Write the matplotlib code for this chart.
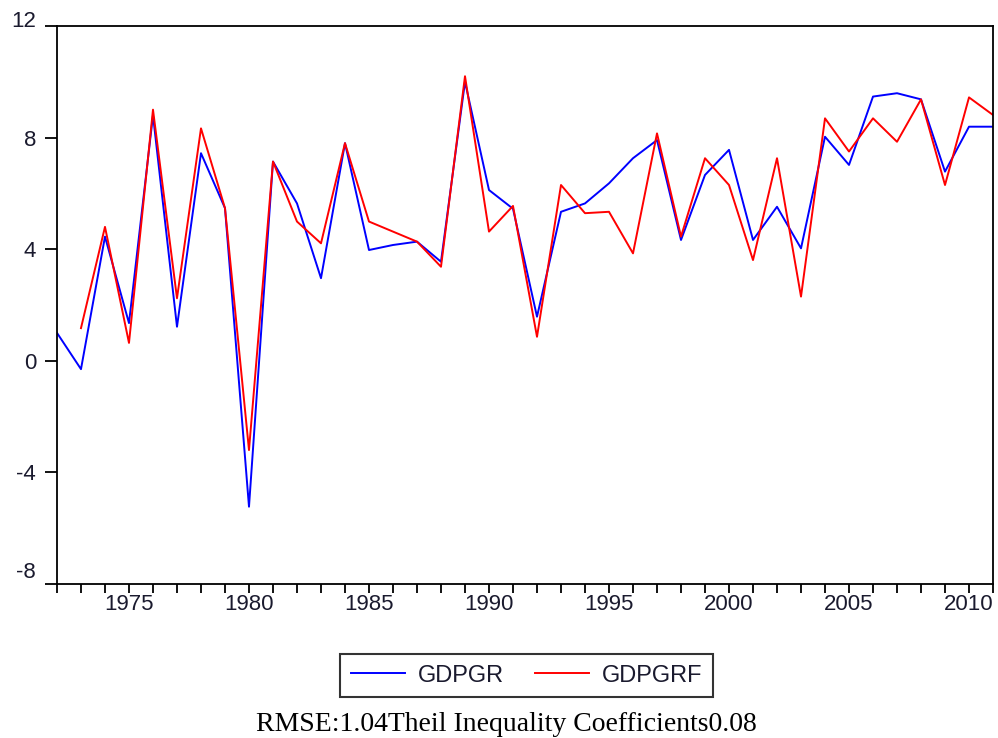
import numpy as np
import matplotlib
matplotlib.use("Agg")
import matplotlib.pyplot as plt
import matplotlib.transforms as mtrans

years = list(range(1972, 2012))

# actual growth rate
gdpgr = [1.0, -0.3, 4.45, 1.35, 8.8, 1.22, 7.44, 5.47, -5.23, 7.14,
         5.64, 2.96, 7.8, 3.97, 4.15, 4.27, 3.55, 10.0, 6.12, 5.45,
         1.58, 5.34, 5.64, 6.36, 7.26, 7.91, 4.33, 6.66, 7.56, 4.33,
         5.52, 4.03, 8.03, 7.02, 9.47, 9.59, 9.37, 6.78, 8.39, 8.39]

# forecast (starts 1973)
gdpgrf = [np.nan, 1.17, 4.8, 0.64, 9.0, 2.24, 8.33, 5.47, -3.2, 7.14,
          4.99, 4.21, 7.8, 4.99, 4.63, 4.27, 3.37, 10.2, 4.63, 5.55,
          0.86, 6.3, 5.29, 5.34, 3.85, 8.15, 4.45, 7.26, 6.3, 3.61,
          7.26, 2.3, 8.69, 7.5, 8.69, 7.85, 9.37, 6.3, 9.44, 8.81]

yticks = [-8, -4, 0, 4, 8, 12]
xlabels = [str(y) if y % 5 == 0 else "" for y in years]

plt.rcParams['font.family'] = ['Liberation Sans', 'DejaVu Sans']
txtcol = '#1a1a2e'

fig = plt.figure(figsize=(9.98, 7.38), dpi=100)
ax = fig.add_axes([0.0571, 0.2087, 0.9379, 0.7561])

ax.plot(years, gdpgr, color='#0000ff', lw=1.4, label='GDPGR')
ax.plot(years, gdpgrf, color='#ff0000', lw=1.4, label='GDPGRF')

ax.set_xlim(1972, 2011)
ax.set_ylim(-8, 12)

ax.set_yticks(yticks)
ax.set_yticklabels([str(v) for v in yticks])
ax.set_xticks(years)
ax.set_xticklabels(xlabels)

ax.tick_params(axis='y', direction='out', length=9, width=1.3, pad=6,
               labelsize=16, labelcolor=txtcol, right=False)
ax.tick_params(axis='x', direction='out', length=6.5, width=1.3, pad=1,
               labelsize=16, labelcolor=txtcol, top=False)

# eviews style: end labels sit above their ticks
ylabs = ax.get_yticklabels()
ylabs[0].set_transform(ylabs[0].get_transform() +
                       mtrans.ScaledTranslation(0, 14/100, fig.dpi_scale_trans))
ylabs[-1].set_transform(ylabs[-1].get_transform() +
                        mtrans.ScaledTranslation(0, 7/100, fig.dpi_scale_trans))

for s in ax.spines.values():
    s.set_linewidth(1.3)

leg = fig.legend(loc='upper center', bbox_to_anchor=(0.5276, 0.1138), ncol=2,
                 fontsize=17, frameon=True, fancybox=False, handlelength=2.3,
                 handletextpad=0.55, columnspacing=1.3, borderpad=0.45,
                 borderaxespad=0)
leg.get_frame().set_edgecolor('black')
leg.get_frame().set_linewidth(1.5)
for t in leg.get_texts():
    t.set_color(txtcol)

fig.text(0.5075, 0.0095, "RMSE:1.04Theil Inequality Coefficients0.08",
         ha='center', va='baseline', fontsize=20, family='Liberation Serif')

fig.savefig('out.png', dpi=100)
